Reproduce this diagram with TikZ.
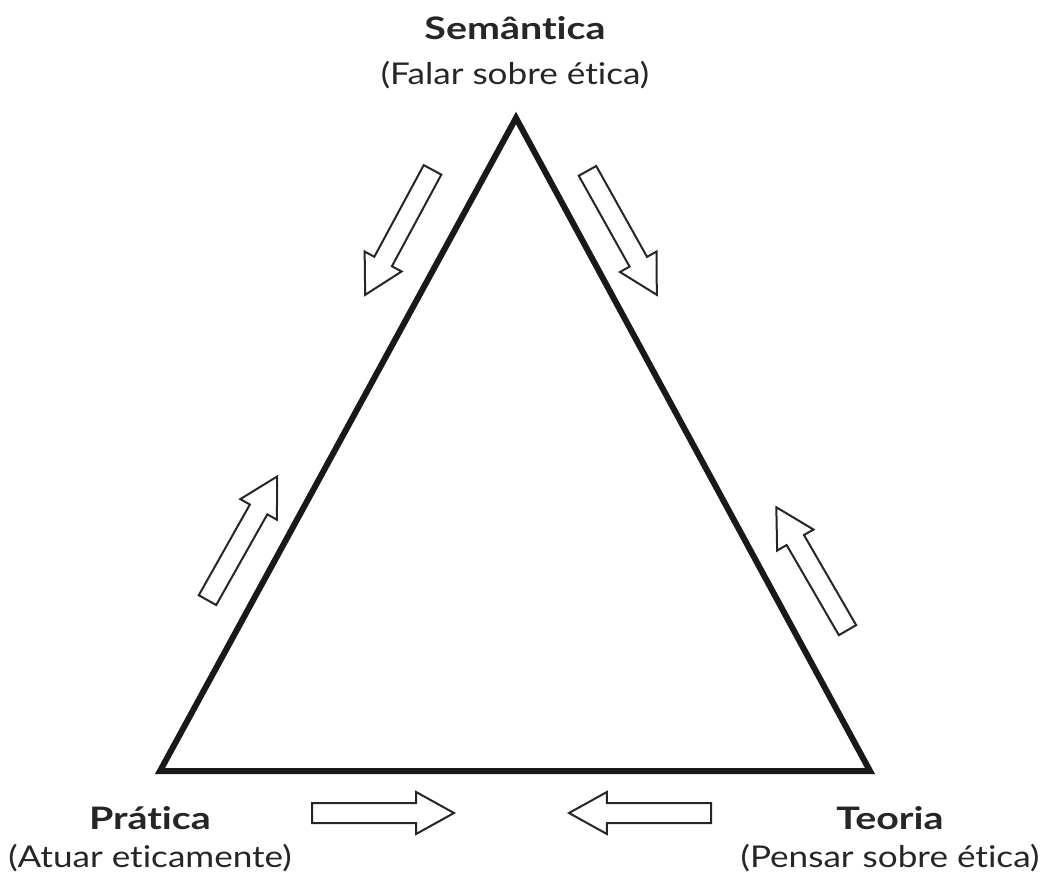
\documentclass[tikz,border=0pt]{standalone}
\usepackage{fontspec}
\setmainfont[Ligatures={NoCommon,NoRare}]{Lato}
\newfontfamily\titlefont[FakeStretch=1.27,Ligatures={NoCommon,NoRare}]{Lato}
\newfontfamily\subfont[FakeStretch=1.17,Ligatures={NoCommon,NoRare}]{Lato}
\usetikzlibrary{shapes.arrows}
\tikzset{
  hollowarrow/.style={shape=single arrow, draw=black!85, fill=white, line width=2pt,
    minimum height=142pt, minimum width=40pt, inner xsep=0pt, inner ysep=9pt,
    single arrow head extend=11pt, single arrow tip angle=58,
    sloped, allow upside down, pos=0, anchor=tail},
  titlelbl/.style={font=\titlefont\fontsize{31}{36}\selectfont\bfseries, text=black!85, inner sep=0pt},
  sublbl/.style={font=\subfont\fontsize{30}{36}\selectfont, text=black!85, inner sep=0pt},
  edge/.style={line width=6pt, draw=black!90, line join=miter}
}
\begin{document}
\begin{tikzpicture}[x=1pt,y=-1pt]
\useasboundingbox (0,0) rectangle (1043,882);
\coordinate (top) at (516,118);
\coordinate (bl) at (160,771);
\coordinate (br) at (870,771);
\draw[edge] (top) -- (bl) -- (br) -- cycle;
% labels
\node[titlelbl] (sem) at (515,28) {Semântica};
\node[sublbl] (semsub) at (515,75) {(Falar sobre ética)};
\node[titlelbl] (pra) at (150,818) {Prática};
\node[sublbl] (prasub) at (150,858) {(Atuar eticamente)};
\node[titlelbl] (teo) at (890,818) {Teoria};
\node[sublbl] (teosub) at (890,858) {(Pensar sobre ética)};
% arrows
\coordinate (a1t) at (433,169); \coordinate (a1h) at (364,297);
\coordinate (a2t) at (587,170); \coordinate (a2h) at (658,297);
\coordinate (a3t) at (207,601); \coordinate (a3h) at (278,475);
\coordinate (a4t) at (848,631); \coordinate (a4h) at (775,505);
\coordinate (a5t) at (311,813); \coordinate (a5h) at (453,813);
\coordinate (a6t) at (712,813); \coordinate (a6h) at (568,813);
\path (a1t) -- (a1h) node[hollowarrow] (arr1) {};
\path (a2t) -- (a2h) node[hollowarrow] (arr2) {};
\path (a3t) -- (a3h) node[hollowarrow] (arr3) {};
\path (a4t) -- (a4h) node[hollowarrow] (arr4) {};
\path (a5t) -- (a5h) node[hollowarrow] (arr5) {};
\path (a6t) -- (a6h) node[hollowarrow] (arr6) {};
\end{tikzpicture}
\end{document}
